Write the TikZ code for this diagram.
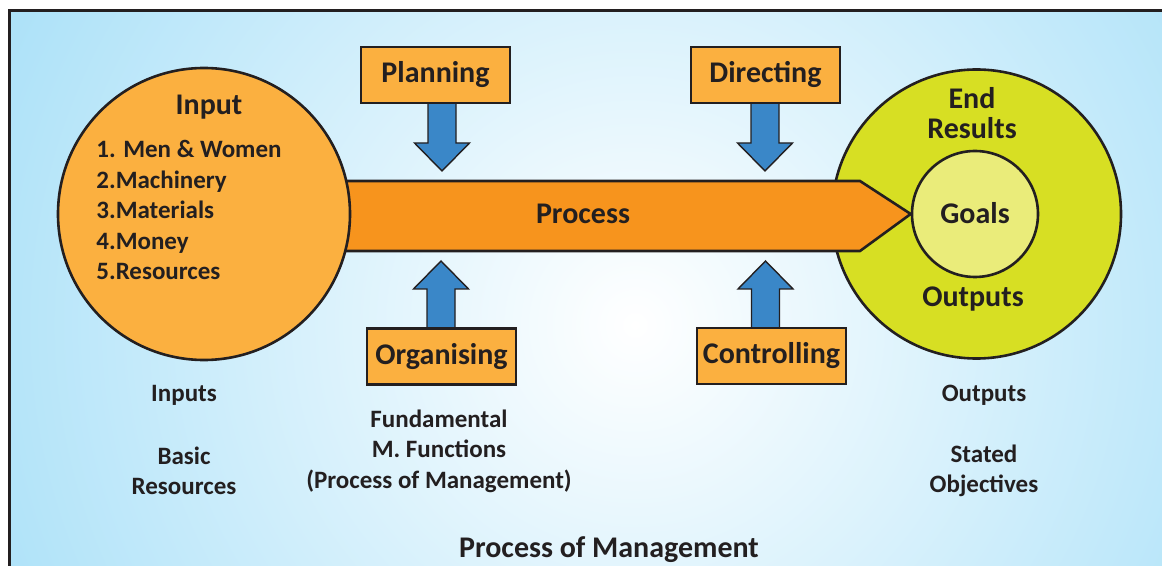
\documentclass[tikz,border=0pt]{standalone}
\usepackage{fontspec}
\setmainfont{Carlito}
\definecolor{bgblue}{RGB}{157,220,247}
\definecolor{inorange}{RGB}{251,176,64}
\definecolor{procorange}{RGB}{247,148,29}
\definecolor{arrblue}{RGB}{58,135,200}
\definecolor{ygreen}{RGB}{215,223,35}
\definecolor{goalfill}{RGB}{234,236,122}
\definecolor{ink}{RGB}{35,31,32}
\newcommand\fbig{\fontsize{15}{15.25}\selectfont\bfseries}
\newcommand\fsmall{\fontsize{12.5}{15.25}\selectfont\bfseries}
\begin{document}
\begin{tikzpicture}[x=0.5pt,y=-0.5pt,
  outline/.style={draw=ink,line width=1.3pt},
  funcbox/.style={outline,fill=inorange,minimum width=74.5pt,minimum height=28pt,inner sep=0pt,font=\fbig,text=ink},
  blockarr/.style={draw=ink,line width=0.7pt,fill=arrblue,line join=miter},
  lbl/.style={font=\fsmall,text=ink,align=center,inner sep=0pt},
  big/.style={font=\fbig,text=ink,align=center,inner sep=0pt},
  barrow/.pic={\draw[blockarr] (-14,0) -- (-14,40) -- (-27.5,40) -- (0,68) -- (27.5,40) -- (14,40) -- (14,0) -- cycle;}
]
\useasboundingbox (0,0) rectangle (1162,566);
% background
\begin{scope}
\clip (9.5,11) rectangle (1162,566);
\fill[bgblue] (9.5,11) rectangle (1162,566);
\shade[inner color=white,outer color=bgblue] (635,325) circle (830);
\end{scope}
\draw[ink,line width=1.5pt] (9.5,600) -- (9.5,11) -- (1200,11);
% output circles
\node[outline,circle,fill=ygreen,minimum size=144.5pt,inner sep=0pt] (res) at (976.5,214) {};
\node[outline,circle,fill=goalfill,minimum size=63pt,inner sep=0pt] (goals) at (975,214) {};
% process arrow
\coordinate (pstart) at (300,181);
\draw[outline,fill=procorange,line join=miter] (pstart) -- (860,181) -- (goals.west) -- (860,251) -- (300,251) -- cycle;
% input circle
\node[outline,circle,fill=inorange,minimum size=146pt,inner sep=0pt] (inp) at (204,214) {};
% block arrows
\pic at (442,103) {barrow};
\pic at (765,103) {barrow};
\pic[rotate=180] at (441,329) {barrow};
\pic[rotate=180] at (765.5,329) {barrow};
% function boxes
\node[funcbox] (plan) at (435.5,75) {Planning};
\node[funcbox] (dir) at (765.5,75) {Directing};
\node[funcbox] (org) at (441.5,356.5) {Organising};
\node[funcbox] (ctrl) at (771.5,356) {Controlling};
% texts
\node[big] (inptitle) at (209,107) {Input};
\node[lbl,align=left,anchor=west] (inlist) at (96,210) {1. Men \& Women\\2.Machinery\\3.Materials\\4.Money\\5.Resources};
\node[big] (proc) at (583,214) {Process};
\node[big] (endres) at (972,113) {End\\Results};
\node[big] (goaltxt) at (975,213) {Goals};
\node[big] (outtxt) at (973,299) {Outputs};
\node[lbl] (l1) at (184,395) {Inputs};
\node[lbl] (l2) at (184,471) {Basic\\Resources};
\node[lbl] (l3) at (439,451) {Fundamental\\M. Functions\\(Process of Management)};
\node[lbl] (l4) at (984,395) {Outputs};
\node[lbl] (l5) at (984,471) {Stated\\Objectives};
\node[big] (title) at (609,550) {Process of Management};
\end{tikzpicture}
\end{document}
